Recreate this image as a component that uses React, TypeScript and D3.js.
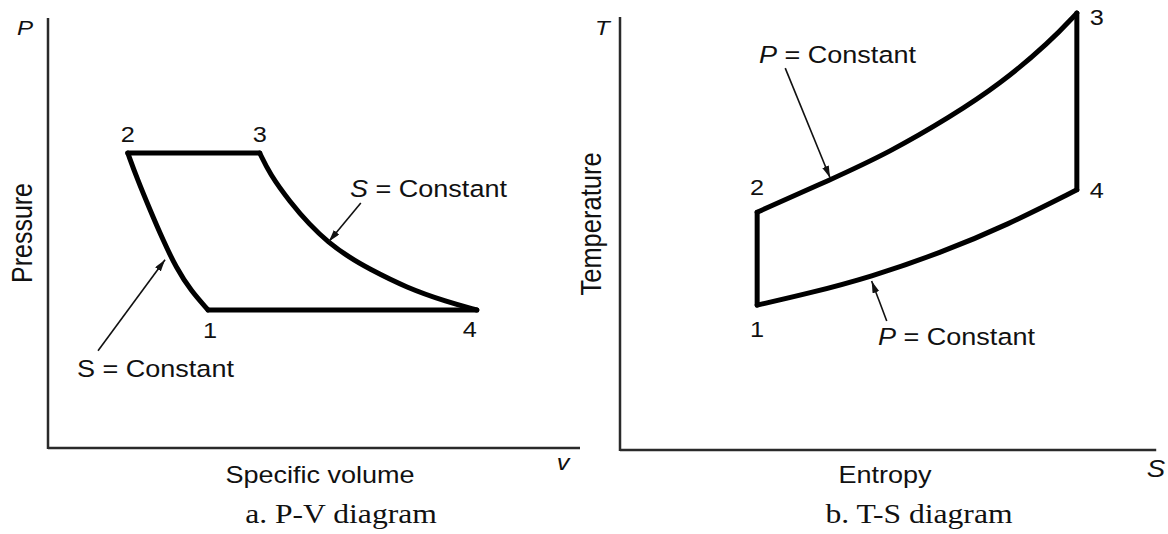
import React from "react";
import * as d3 from "d3";

// ---------- Data (domain units) ----------
// P-v diagram: specific volume (v) vs pressure (P)
const pvCompression: [number, number][] = [
  [1.5, 6.86], [1.67, 6.28], [1.92, 5.53], [2.16, 4.84], [2.41, 4.19], [2.69, 3.65], [3.01, 3.21],
]; // 2 <- 1 (isentropic), listed by increasing v
const pvHeatAdd: [number, number][] = [[1.5, 6.86], [3.98, 6.86]]; // 2 -> 3
const pvExpansion: [number, number][] = [
  [3.98, 6.86], [4.17, 6.37], [4.55, 5.72], [4.92, 5.19], [5.26, 4.79], [5.68, 4.42],
  [6.0, 4.19], [6.75, 3.72], [7.5, 3.4], [8.06, 3.21],
]; // 3 -> 4 (isentropic)
const pvHeatRej: [number, number][] = [[8.06, 3.21], [3.01, 3.21]]; // 4 -> 1
const pvPoints: { id: string; v: number; P: number }[] = [
  { id: "1", v: 3.01, P: 3.21 },
  { id: "2", v: 1.5, P: 6.86 },
  { id: "3", v: 3.98, P: 6.86 },
  { id: "4", v: 8.06, P: 3.21 },
];
const pvArrows: { from: [number, number]; to: [number, number] }[] = [
  { from: [5.88, 5.7], to: [5.28, 4.8] },
  { from: [0.94, 2.26], to: [2.2, 4.38] },
];

// T-s diagram: entropy (s) vs temperature (T)
const tsHeatAdd: [number, number][] = [
  [2.54, 5.53], [3.89, 6.28], [5.0, 6.93], [6.11, 7.74], [7.04, 8.51], [7.96, 9.49], [8.46, 10.16],
]; // 2 -> 3 (constant P)
const tsExpansion: [number, number][] = [[8.46, 10.16], [8.46, 6.05]]; // 3 -> 4
const tsHeatRej: [number, number][] = [
  [2.54, 3.37], [3.52, 3.65], [4.63, 4.02], [5.93, 4.58], [7.17, 5.23], [8.46, 6.05],
]; // 1 <- 4 (constant P), listed by increasing s
const tsCompression: [number, number][] = [[2.54, 3.37], [2.54, 5.53]]; // 1 -> 2
const tsPoints: { id: string; s: number; T: number }[] = [
  { id: "1", s: 2.54, T: 3.37 },
  { id: "2", s: 2.54, T: 5.53 },
  { id: "3", s: 8.46, T: 10.16 },
  { id: "4", s: 8.46, T: 6.05 },
];
const tsArrows: { from: [number, number]; to: [number, number] }[] = [
  { from: [3.06, 8.88], to: [3.89, 6.33] },
  { from: [4.94, 3.0], to: [4.66, 3.93] },
];

const SX = 1.15; // horizontal stretch of the original artwork's text
const SANS = "'Liberation Sans', Arial, sans-serif";
const SERIF = "'Liberation Serif', 'Times New Roman', serif";

type LabelProps = {
  x: number;
  y: number;
  size: number;
  anchor?: "start" | "middle" | "end";
  italic?: boolean;
  family?: string;
  rotate?: boolean;
  children: React.ReactNode;
};
function Label({ x, y, size, anchor = "start", italic, family = SANS, rotate, children }: LabelProps) {
  const tf = rotate
    ? `translate(${x},${y}) rotate(-90) scale(1,${SX})`
    : `translate(${x},${y}) scale(${SX},1)`;
  return (
    <text
      transform={tf}
      textAnchor={anchor}
      fontFamily={family}
      fontSize={size}
      fontStyle={italic ? "italic" : "normal"}
      fill="#111"
    >
      {children}
    </text>
  );
}

export default function App() {
  // scales
  const xPV = d3.scaleLinear().domain([0, 10]).range([48, 580]);
  const yPV = d3.scaleLinear().domain([0, 10]).range([448, 18]);
  const xTS = d3.scaleLinear().domain([0, 10]).range([620, 1160]);
  const yTS = d3.scaleLinear().domain([0, 10]).range([450, 20]);

  const curvePV = d3
    .line<[number, number]>()
    .x((d) => xPV(d[0]))
    .y((d) => yPV(d[1]))
    .curve(d3.curveBasis);
  const straightPV = d3
    .line<[number, number]>()
    .x((d) => xPV(d[0]))
    .y((d) => yPV(d[1]));
  const curveTS = d3
    .line<[number, number]>()
    .x((d) => xTS(d[0]))
    .y((d) => yTS(d[1]))
    .curve(d3.curveBasis);
  const straightTS = d3
    .line<[number, number]>()
    .x((d) => xTS(d[0]))
    .y((d) => yTS(d[1]));

  const cycleStyle = {
    fill: "none",
    stroke: "#000",
    strokeWidth: 5,
    strokeLinecap: "round" as const,
    strokeLinejoin: "round" as const,
  };
  const axisStyle = { stroke: "#2a2a2a", strokeWidth: 2.5 };

  const p = (id: string) => pvPoints.find((d) => d.id === id)!;
  const t = (id: string) => tsPoints.find((d) => d.id === id)!;

  return (
    <svg
      width={1168}
      height={534}
      style={{ position: "absolute", left: 0, top: 0, background: "#fff" }}
    >
      <defs>
        <marker
          id="arrow"
          markerUnits="userSpaceOnUse"
          markerWidth={14}
          markerHeight={8}
          refX={12}
          refY={3.5}
          orient="auto"
        >
          <path d="M0,0 L12,3.5 L0,7 Z" fill="#111" />
        </marker>
      </defs>
      <rect x={0} y={0} width={1168} height={534} fill="#fff" />

      {/* ===== P-v panel ===== */}
      <line x1={xPV(0)} y1={yPV(10)} x2={xPV(0)} y2={yPV(0) + 1} {...axisStyle} />
      <line x1={xPV(0)} y1={yPV(0)} x2={xPV(10)} y2={yPV(0)} {...axisStyle} />

      <path d={straightPV(pvHeatAdd) || ""} {...cycleStyle} />
      <path d={curvePV(pvExpansion) || ""} {...cycleStyle} />
      <path d={straightPV(pvHeatRej) || ""} {...cycleStyle} />
      <path d={curvePV(pvCompression) || ""} {...cycleStyle} />

      {pvArrows.map((a, i) => (
        <line
          key={i}
          x1={xPV(a.from[0])}
          y1={yPV(a.from[1])}
          x2={xPV(a.to[0])}
          y2={yPV(a.to[1])}
          stroke="#111"
          strokeWidth={1.6}
          markerEnd="url(#arrow)"
        />
      ))}

      <Label x={xPV(p("2").v)} y={yPV(p("2").P) - 11} size={22} anchor="middle">2</Label>
      <Label x={xPV(p("3").v)} y={yPV(p("3").P) - 11} size={22} anchor="middle">3</Label>
      <Label x={xPV(p("1").v) + 2} y={yPV(p("1").P) + 28} size={22} anchor="middle">1</Label>
      <Label x={xPV(p("4").v) - 7} y={yPV(p("4").P) + 27} size={22} anchor="middle">4</Label>

      <Label x={350} y={197} size={23.5}>
        <tspan fontStyle="italic">S</tspan>
        <tspan> = Constant</tspan>
      </Label>
      <Label x={77} y={377} size={23.5}>S = Constant</Label>

      <Label x={17} y={35} size={21} italic>P</Label>
      <Label x={32} y={233} size={25} anchor="middle" rotate>Pressure</Label>
      <Label x={320} y={483} size={23.5} anchor="middle">Specific volume</Label>
      <Label x={563} y={470} size={22} anchor="middle" italic>v</Label>
      <Label x={341} y={523} size={27.5} anchor="middle" family={SERIF}>a. P-V diagram</Label>

      {/* ===== T-s panel ===== */}
      <line x1={xTS(0)} y1={yTS(10) - 3} x2={xTS(0)} y2={yTS(0) + 1} {...axisStyle} />
      <line x1={xTS(0)} y1={yTS(0)} x2={xTS(9.93)} y2={yTS(0)} {...axisStyle} />

      <path d={curveTS(tsHeatAdd) || ""} {...cycleStyle} />
      <path d={straightTS(tsExpansion) || ""} {...cycleStyle} />
      <path d={curveTS(tsHeatRej) || ""} {...cycleStyle} />
      <path d={straightTS(tsCompression) || ""} {...cycleStyle} />

      {tsArrows.map((a, i) => (
        <line
          key={i}
          x1={xTS(a.from[0])}
          y1={yTS(a.from[1])}
          x2={xTS(a.to[0])}
          y2={yTS(a.to[1])}
          stroke="#111"
          strokeWidth={1.6}
          markerEnd="url(#arrow)"
        />
      ))}

      <Label x={xTS(t("2").s)} y={yTS(t("2").T) - 17} size={22} anchor="middle">2</Label>
      <Label x={xTS(t("1").s)} y={yTS(t("1").T) + 32} size={22} anchor="middle">1</Label>
      <Label x={xTS(t("3").s) + 20} y={yTS(t("3").T) + 12} size={22} anchor="middle">3</Label>
      <Label x={xTS(t("4").s) + 20} y={yTS(t("4").T) + 8} size={22} anchor="middle">4</Label>

      <Label x={759} y={63} size={23.5}>
        <tspan fontStyle="italic">P</tspan>
        <tspan> = Constant</tspan>
      </Label>
      <Label x={878} y={345} size={23.5}>
        <tspan fontStyle="italic">P</tspan>
        <tspan> = Constant</tspan>
      </Label>

      <Label x={595} y={35} size={21} italic>T</Label>
      <Label x={601} y={224} size={25.5} anchor="middle" rotate>Temperature</Label>
      <Label x={885} y={483} size={23.5} anchor="middle">Entropy</Label>
      <Label x={1156} y={477} size={24} anchor="middle" italic>S</Label>
      <Label x={919} y={523} size={27.5} anchor="middle" family={SERIF}>b. T-S diagram</Label>
    </svg>
  );
}
